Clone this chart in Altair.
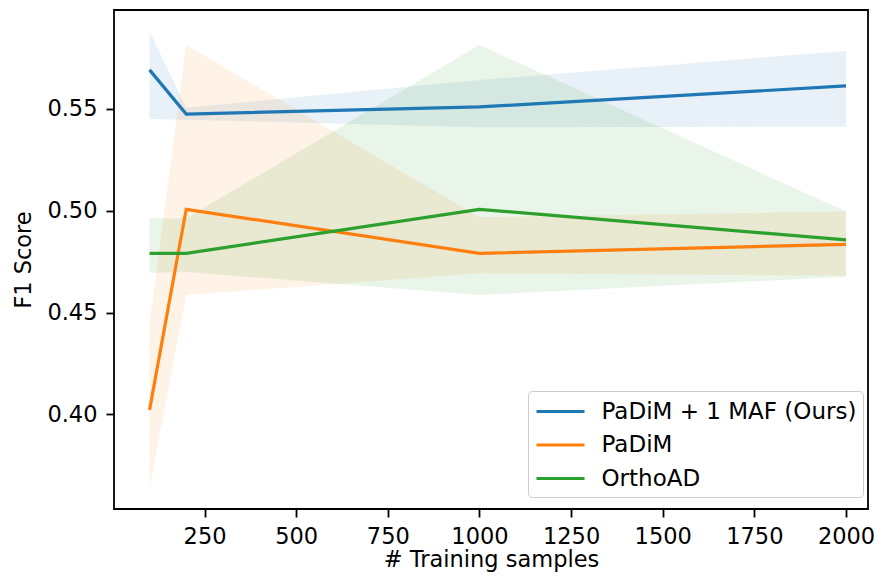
import altair as alt
import pandas as pd

x_vals = [100, 200, 1000, 2000]
series_names = ["PaDiM + 1 MAF (Ours)", "PaDiM", "OrthoAD"]
colors = ["#1f77b4", "#ff7f0e", "#2ca02c"]

ours_mean = [0.5692, 0.5475, 0.5510, 0.5613]
ours_lo = [0.5451, 0.5447, 0.5410, 0.5413]
ours_hi = [0.5880, 0.5506, 0.5642, 0.5785]

padim_mean = [0.4022, 0.5007, 0.4791, 0.4835]
padim_lo = [0.3639, 0.4586, 0.4693, 0.4681]
padim_hi = [0.4447, 0.5814, 0.4968, 0.4996]

ortho_mean = [0.4791, 0.4791, 0.5007, 0.4857]
ortho_lo = [0.4696, 0.4699, 0.4586, 0.4676]
ortho_hi = [0.4963, 0.4963, 0.5814, 0.4996]

rows = []
for name, m, lo, hi in zip(series_names,
                           [ours_mean, padim_mean, ortho_mean],
                           [ours_lo, padim_lo, ortho_lo],
                           [ours_hi, padim_hi, ortho_hi]):
    for i, xv in enumerate(x_vals):
        rows.append({"series": name, "x": xv, "mean": m[i], "lo": lo[i], "hi": hi[i]})
df = pd.DataFrame(rows)

FONT = "DejaVu Sans"
FS = 22.5
xscale = alt.Scale(domain=[3, 2060], nice=False, zero=False)
yscale = alt.Scale(domain=[0.3535, 0.5986], nice=False, zero=False)

xaxis = alt.Axis(values=[250, 500, 750, 1000, 1250, 1500, 1750, 2000], format="d",
                 title="# Training samples", grid=False, domain=False,
                 tickColor="black", tickSize=8, tickWidth=1.8,
                 labelFont=FONT, labelFontSize=FS, labelColor="black", labelPadding=8.5,
                 titleFont=FONT, titleFontSize=FS, titleFontWeight="normal",
                 titleColor="black", titlePadding=0)
yaxis = alt.Axis(values=[0.40, 0.45, 0.50, 0.55], format=".2f",
                 title="F1 Score", grid=False, domain=False,
                 tickColor="black", tickSize=8, tickWidth=1.8,
                 labelFont=FONT, labelFontSize=FS, labelColor="black", labelPadding=9,
                 titleFont=FONT, titleFontSize=FS, titleFontWeight="normal",
                 titleColor="black", titlePadding=11)

base = alt.Chart(df)

band_layers = []
for name, col in zip(series_names, colors):
    band_layers.append(
        base.transform_filter(alt.datum.series == name)
        .mark_area(color=col, fillOpacity=0.1, strokeWidth=0)
        .encode(
            x=alt.X("x:Q", scale=xscale, axis=xaxis),
            y=alt.Y("lo:Q", scale=yscale, axis=yaxis),
            y2="hi:Q",
        )
    )

lines = base.mark_line(strokeWidth=3.2).encode(
    x=alt.X("x:Q", scale=xscale, axis=xaxis),
    y=alt.Y("mean:Q", scale=yscale, axis=yaxis),
    color=alt.Color("series:N", scale=alt.Scale(domain=series_names, range=colors),
                    legend=alt.Legend(title=None, orient="none",
                                      legendX=414, legendY=381,
                                      symbolType="M-1,0H3", symbolSize=576,
                                      symbolStrokeWidth=3.2,
                                      labelFont=FONT, labelFontSize=23,
                                      labelColor="black", labelOffset=39,
                                      labelLimit=500,
                                      rowPadding=7.5, padding=6.5,
                                      strokeColor="#cccccc", cornerRadius=4,
                                      fillColor="white")),
)

chart = alt.layer(*band_layers, lines).properties(
    width=754, height=499,
    background="white",
    autosize=alt.AutoSizeParams(type="none"),
    padding={"left": 106, "top": 2, "right": 6, "bottom": 65},
).configure_view(stroke="black", strokeWidth=1.8)

chart.save("out.html", embed_options={"renderer": "svg", "actions": False})
